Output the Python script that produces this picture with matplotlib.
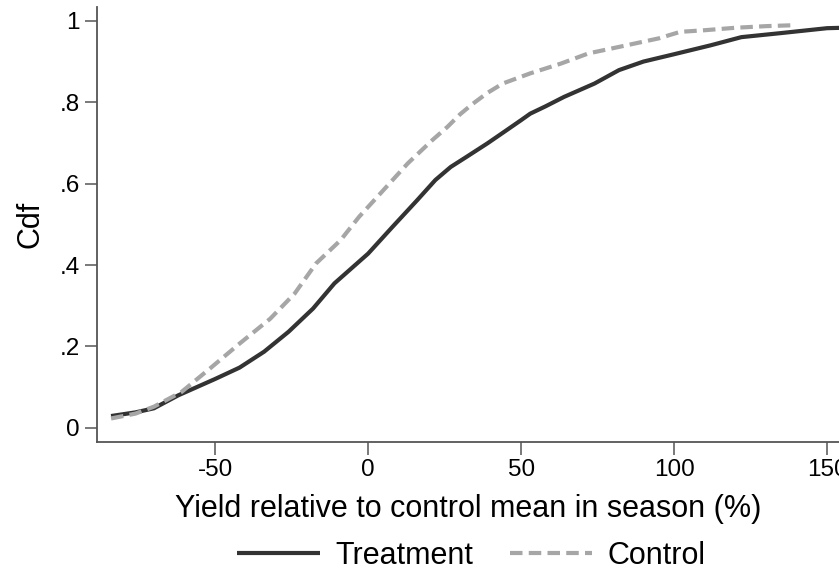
import matplotlib.pyplot as plt

plt.rcParams['font.family'] = ['Liberation Sans', 'DejaVu Sans']
plt.rcParams['axes.unicode_minus'] = False

# cdf of yield relative to control mean
treat_x = [-84, -76, -70, -62, -56, -50, -42, -34, -26, -18, -11, 0, 8, 16, 22, 27,
           32, 39, 45, 50, 53, 58, 64, 74, 82, 90, 100, 112, 122, 135, 150, 155]
treat_y = [0.029, 0.038, 0.048, 0.080, 0.100, 0.120, 0.148, 0.187, 0.236, 0.293, 0.355,
           0.428, 0.494, 0.559, 0.609, 0.641, 0.665, 0.699, 0.730, 0.756, 0.772, 0.790,
           0.813, 0.846, 0.879, 0.900, 0.918, 0.940, 0.960, 0.970, 0.982, 0.983]

ctrl_x = [-84, -76, -70, -61, -51, -42, -32, -24, -17, -9, -3, 5, 13, 21, 26, 30, 34,
          39, 44, 53, 63, 72, 82, 95, 102, 110, 120, 130, 138]
ctrl_y = [0.023, 0.035, 0.052, 0.088, 0.150, 0.207, 0.268, 0.330, 0.404, 0.461, 0.518,
          0.584, 0.650, 0.707, 0.740, 0.770, 0.795, 0.823, 0.846, 0.871, 0.895, 0.920,
          0.936, 0.957, 0.973, 0.977, 0.983, 0.987, 0.989]

xticks = [-50, 0, 50, 100, 150]
yticks = [0, 0.2, 0.4, 0.6, 0.8, 1.0]
ytick_labels = ['0', '.2', '.4', '.6', '.8', '1']

fig = plt.figure(figsize=(8.39, 5.71), dpi=100)
ax = fig.add_axes([0.1156, 0.2265, 0.8844, 0.7612])

ax.plot(treat_x, treat_y, color='#333333', lw=3.0, label='Treatment', solid_capstyle='butt')
ax.plot(ctrl_x, ctrl_y, color='#a6a6a6', lw=3.0, dashes=(3, 1.5), label='Control',
        dash_capstyle='butt')

ax.set_xlim(-88.6, 153.9)
ax.set_ylim(-0.034, 1.034)
ax.set_xticks(xticks)
ax.set_yticks(yticks)
ax.set_yticklabels(ytick_labels)
ax.tick_params(labelsize=17.5, length=9, width=1.1, color='#555555', pad=3.5)

for side in ['top', 'right']:
    ax.spines[side].set_visible(False)
for side in ['left', 'bottom']:
    ax.spines[side].set_color('#555555')
    ax.spines[side].set_linewidth(1.3)

ax.set_xlabel('Yield relative to control mean in season (%)', fontsize=22, labelpad=9)
ax.set_ylabel('Cdf', fontsize=22, labelpad=10)

fig.legend(loc='center', bbox_to_anchor=(0.562, 0.026),
           ncol=2, frameon=False, fontsize=22, handlelength=2.7, handletextpad=0.5,
           columnspacing=1.2, borderaxespad=0, borderpad=0)

fig.savefig('out.png', dpi=100)
